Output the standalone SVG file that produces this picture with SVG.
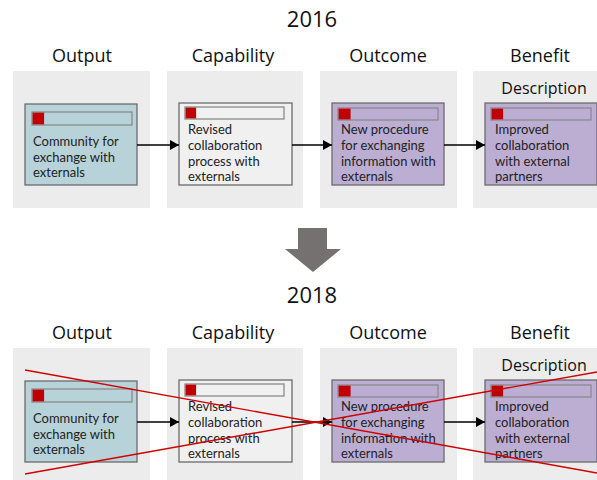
<svg xmlns="http://www.w3.org/2000/svg" width="597" height="480" viewBox="0 0 597 480">
<style>
.panel{fill:#ececec}
.box{stroke:#6b6b6b;stroke-width:1.3}
.blue{fill:#b7d3d9}
.grey{fill:#f0f0f0}
.purple{fill:#bcaed3}
.bar{fill:none;stroke:#8a8a8a;stroke-width:1.3}
.red{fill:#c00000}
.t{font-family:Lato,"Open Sans",sans-serif;font-size:13px;fill:#222}
.h{font-family:"Open Sans",sans-serif;font-size:18px;fill:#111;text-anchor:middle}
.d{font-family:"Open Sans",sans-serif;font-size:16px;fill:#111;text-anchor:middle}
.y{font-family:"Open Sans",sans-serif;font-size:22px;fill:#111;text-anchor:middle}
.conn{stroke:#000;stroke-width:1.5;fill:none;marker-end:url(#ah)}
.cross{stroke:#d00000;stroke-width:1.4;fill:none}
</style>
<defs>
<marker id="ah" markerWidth="10" markerHeight="10" refX="9" refY="5" orient="auto" markerUnits="userSpaceOnUse">
<path d="M0,0 L9,5 L0,10 Z" fill="#000"/>
</marker>
</defs>

<text class="y" x="312" y="27">2016</text>
<g id="headers-2016">
<text class="h" x="82" y="62">Output</text>
<text class="h" x="233" y="62">Capability</text>
<text class="h" x="388" y="62">Outcome</text>
<text class="h" x="540" y="62">Benefit</text>
</g>
<g id="panels-2016">
<rect class="panel" x="13" y="71" width="137" height="137"/>
<rect class="panel" x="167" y="71" width="136" height="137"/>
<rect class="panel" x="320" y="71" width="137" height="137"/>
<rect class="panel" x="473" y="71" width="137" height="137"/>
</g>
<text class="d" x="544" y="94">Description</text>

<g id="out2016">
<rect class="box blue" x="25" y="104" width="112" height="81"/>
<rect class="bar" x="32" y="112" width="100" height="13"/>
<rect class="red" x="32.6" y="112.6" width="11.5" height="11.8"/>
<text class="t" x="33" y="146">Community for</text>
<text class="t" x="33" y="162">exchange with</text>
<text class="t" x="33" y="177">externals</text>
</g>
<g id="cap2016">
<rect class="box grey" x="179" y="103" width="113" height="82"/>
<rect class="bar" x="185" y="107" width="99" height="12"/>
<rect class="red" x="185.6" y="107.6" width="10.5" height="10.8"/>
<text class="t" x="188" y="134">Revised</text>
<text class="t" x="188" y="150">collaboration</text>
<text class="t" x="188" y="166">process with</text>
<text class="t" x="188" y="181">externals</text>
</g>
<g id="outc2016">
<rect class="box purple" x="332" y="103" width="112" height="82"/>
<rect class="bar" x="338" y="108" width="100" height="12"/>
<rect class="red" x="338.6" y="108.6" width="12" height="10.8"/>
<text class="t" x="341" y="134">New procedure</text>
<text class="t" x="341" y="150">for exchanging</text>
<text class="t" x="341" y="166">information with</text>
<text class="t" x="341" y="181">externals</text>
</g>
<g id="ben2016">
<rect class="box purple" x="485" y="103" width="112" height="82"/>
<rect class="bar" x="491" y="108" width="100" height="12"/>
<rect class="red" x="491.6" y="108.6" width="11.5" height="10.8"/>
<text class="t" x="495" y="134">Improved</text>
<text class="t" x="495" y="150">collaboration</text>
<text class="t" x="495" y="166">with external</text>
<text class="t" x="495" y="181">partners</text>
</g>
<g id="connectors-2016">
<line class="conn" x1="137" y1="145" x2="179" y2="145"/>
<line class="conn" x1="292" y1="145" x2="332" y2="145"/>
<line class="conn" x1="444" y1="145" x2="485" y2="145"/>
</g>

<g id="transition">
<path d="M298,228 H327 V249 H341 L313,272 L285,249 H298 Z" fill="#767171"/>
</g>

<text class="y" x="312" y="303">2018</text>
<g id="headers-2018">
<text class="h" x="82" y="339">Output</text>
<text class="h" x="233" y="339">Capability</text>
<text class="h" x="388" y="339">Outcome</text>
<text class="h" x="540" y="339">Benefit</text>
</g>
<g id="panels-2018">
<rect class="panel" x="13" y="348" width="137" height="137"/>
<rect class="panel" x="167" y="348" width="136" height="137"/>
<rect class="panel" x="320" y="348" width="137" height="137"/>
<rect class="panel" x="473" y="348" width="137" height="137"/>
</g>
<text class="d" x="544" y="371">Description</text>

<g id="out2018">
<rect class="box blue" x="25" y="381" width="112" height="81"/>
<rect class="bar" x="32" y="389" width="100" height="13"/>
<rect class="red" x="32.6" y="389.6" width="11.5" height="11.8"/>
<text class="t" x="33" y="423">Community for</text>
<text class="t" x="33" y="439">exchange with</text>
<text class="t" x="33" y="454">externals</text>
</g>
<g id="cap2018">
<rect class="box grey" x="179" y="380" width="113" height="82"/>
<rect class="bar" x="185" y="384" width="99" height="12"/>
<rect class="red" x="185.6" y="384.6" width="10.5" height="10.8"/>
<text class="t" x="188" y="411">Revised</text>
<text class="t" x="188" y="427">collaboration</text>
<text class="t" x="188" y="443">process with</text>
<text class="t" x="188" y="458">externals</text>
</g>
<g id="outc2018">
<rect class="box purple" x="332" y="380" width="112" height="82"/>
<rect class="bar" x="338" y="385" width="100" height="12"/>
<rect class="red" x="338.6" y="385.6" width="12" height="10.8"/>
<text class="t" x="341" y="411">New procedure</text>
<text class="t" x="341" y="427">for exchanging</text>
<text class="t" x="341" y="443">information with</text>
<text class="t" x="341" y="458">externals</text>
</g>
<g id="ben2018">
<rect class="box purple" x="485" y="380" width="112" height="82"/>
<rect class="bar" x="491" y="385" width="100" height="12"/>
<rect class="red" x="491.6" y="385.6" width="11.5" height="10.8"/>
<text class="t" x="495" y="411">Improved</text>
<text class="t" x="495" y="427">collaboration</text>
<text class="t" x="495" y="443">with external</text>
<text class="t" x="495" y="458">partners</text>
</g>
<g id="connectors-2018">
<line class="conn" x1="137" y1="422" x2="179" y2="422"/>
<line class="conn" x1="292" y1="422" x2="332" y2="422"/>
<line class="conn" x1="444" y1="422" x2="485" y2="422"/>
</g>
<g id="strike">
<line class="cross" x1="25" y1="370" x2="597" y2="473"/>
<line class="cross" x1="25" y1="474" x2="597" y2="372"/>
</g>
</svg>
